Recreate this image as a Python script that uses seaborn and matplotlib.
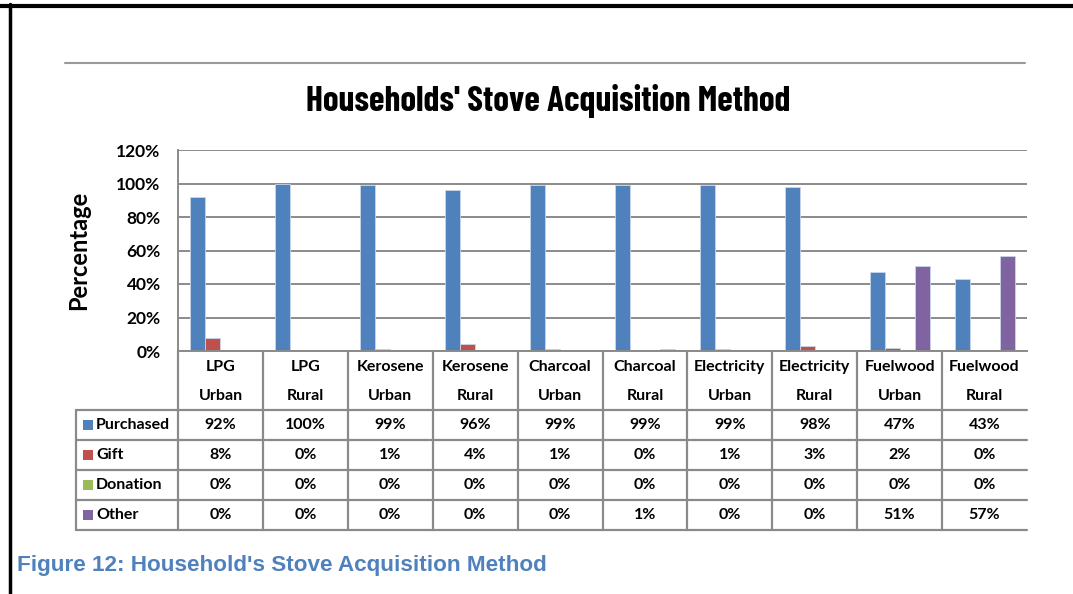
import matplotlib
matplotlib.use("Agg")
import matplotlib.pyplot as plt
import seaborn as sns
import pandas as pd
from matplotlib.lines import Line2D
from matplotlib.patches import Rectangle
from matplotlib.transforms import blended_transform_factory

# ---------------- data ----------------
categories = ["LPG Urban", "LPG Rural", "Kerosene Urban", "Kerosene Rural",
              "Charcoal Urban", "Charcoal Rural", "Electricity Urban",
              "Electricity Rural", "Fuelwood Urban", "Fuelwood Rural"]
methods = ["Purchased", "Gift", "Donation", "Other"]
purchased = [92, 100, 99, 96, 99, 99, 99, 98, 47, 43]
gift = [8, 0, 1, 4, 1, 0, 1, 3, 2, 0]
donation = [0, 0, 0, 0, 0, 0, 0, 0, 0, 0]
other = [0, 0, 0, 0, 0, 1, 0, 0, 51, 57]
yticks = [0, 20, 40, 60, 80, 100, 120]
title = "Households' Stove Acquisition Method"
ylabel = "Percentage"
caption = "Figure 12: Household's Stove Acquisition Method"

colors = ["#4F81BD", "#C0504D", "#9BBB59", "#8064A2"]
series = [purchased, gift, donation, other]

df = pd.DataFrame({
    "category": categories * len(methods),
    "method": [m for m in methods for _ in categories],
    "value": [v for s in series for v in s],
})

# ---------------- figure ----------------
sns.set_style("white")
plt.rcParams["font.family"] = ["Lato", "DejaVu Sans"]
plt.rcParams["text.color"] = "black"
plt.rcParams["axes.labelcolor"] = "black"
plt.rcParams["ytick.color"] = "black"
plt.rcParams["xtick.color"] = "black"

W, H = 1073, 594
fig = plt.figure(figsize=(W / 100, H / 100), dpi=100)

def fx(px):
    return px / W

def fy(py):
    return 1 - py / H

ax_left, ax_right, ax_top, ax_bottom = 178, 1027, 150, 351
ax = fig.add_axes([fx(ax_left), fy(ax_bottom), fx(ax_right - ax_left),
                   (ax_bottom - ax_top) / H])

sns.barplot(data=df, x="category", y="value", hue="method", order=categories,
            hue_order=methods, palette=colors, saturation=1, width=0.706,
            gap=0, edgecolor="#c9d6ea", linewidth=0.6, legend=False, ax=ax)

grid_c = "#8a8a8a"
ax.set_xlim(-0.5, len(categories) - 0.5)
ax.set_ylim(0, 120)
ax.set_yticks(yticks)
ax.set_yticklabels([f"{t}%" for t in yticks], fontsize=12.5, fontweight="bold")
ax.yaxis.grid(True, color=grid_c, linewidth=1.4)
ax.set_axisbelow(True)
ax.tick_params(axis="y", length=3, color=grid_c, width=1.2, pad=9.5,
               labelcolor="black")
ax.set_xticks([])
ax.set_xlabel("")
ax.set_ylabel(ylabel, fontsize=17, fontweight="bold", labelpad=19,
              color="black")
for s in ["top", "right"]:
    ax.spines[s].set_visible(False)
ax.spines["left"].set_color(grid_c)
ax.spines["left"].set_linewidth(1.4)
ax.spines["bottom"].set_color(grid_c)
ax.spines["bottom"].set_linewidth(1.4)

# ---------------- data table ----------------
bt = blended_transform_factory(ax.transData, fig.transFigure)
lw = 1.6
tab_top, tab_hdr, tab_bottom = ax_bottom, 410, 530
row_lines = [410, 440, 470, 500, 530]
row_centers = [425, 455, 485, 515]
lab_left = 76

for i in range(len(categories)):
    xb = i - 0.5
    fig.add_artist(Line2D([xb, xb], [fy(tab_top), fy(tab_bottom)], transform=bt,
                          color=grid_c, linewidth=lw))
fig.add_artist(Line2D([fx(lab_left), fx(lab_left)], [fy(tab_hdr), fy(tab_bottom)],
                      transform=fig.transFigure, color=grid_c, linewidth=lw))
for yl in row_lines:
    fig.add_artist(Line2D([fx(lab_left), fx(ax_right)], [fy(yl), fy(yl)],
                          transform=fig.transFigure, color=grid_c, linewidth=lw))

tfont = dict(fontsize=11.5, fontweight="bold", color="black")
for i, c in enumerate(categories):
    l1, l2 = c.split(" ")
    fig.text(i, fy(367), l1, transform=bt, ha="center", va="center", **tfont)
    fig.text(i, fy(396), l2, transform=bt, ha="center", va="center", **tfont)

for r, (m, vals, col) in enumerate(zip(methods, series, colors)):
    yc = row_centers[r]
    fig.add_artist(Rectangle((fx(83), fy(yc + 5)), fx(10), 10 / H,
                             transform=fig.transFigure, facecolor=col,
                             edgecolor="none"))
    fig.text(fx(96), fy(yc), m, ha="left", va="center", **tfont)
    for i, v in enumerate(vals):
        fig.text(i, fy(yc), f"{v}%", transform=bt, ha="center", va="center", **tfont)

# ---------------- titles & decorations ----------------
fig.text(fx(548), fy(101), title, ha="center", va="center", fontsize=25.5,
         fontweight="bold", color="black",
         family=["Barlow Condensed", "DejaVu Sans"])
fig.add_artist(Line2D([fx(65), fx(1025)], [fy(63), fy(63)],
                      transform=fig.transFigure, color="#9a9a9a", linewidth=1.5))
fig.text(fx(17), fy(565), caption, ha="left", va="center", fontsize=16.2,
         fontweight="bold", color="#4F81BD",
         family=["Liberation Sans", "DejaVu Sans"])

fig.add_artist(Line2D([0, 1], [fy(6), fy(6)], transform=fig.transFigure,
                      color="black", linewidth=3))
fig.add_artist(Line2D([fx(9.5), fx(9.5)], [fy(4), 0], transform=fig.transFigure,
                      color="black", linewidth=2.5))

fig.savefig("out.png", dpi=100)
